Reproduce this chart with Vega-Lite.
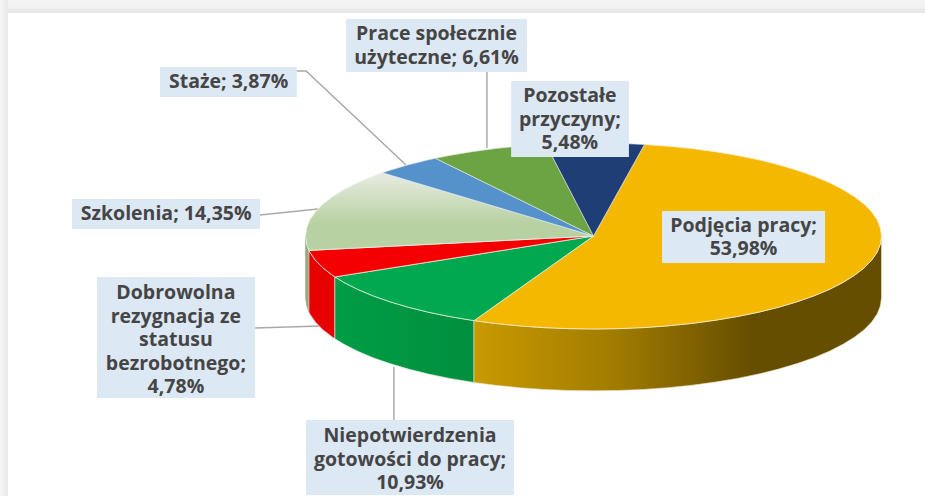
{"$schema":"https://vega.github.io/schema/vega-lite/v6.json","width":925,"height":496,"padding":0,"autosize":"none","background":"#ffffff","view":{"stroke":null},
"datasets":{
"top":[
{"s":"Podjecia","i":0,"x":0,"y":0},{"s":"Podjecia","i":1,"x":0.177,"y":0.984},{"s":"Podjecia","i":2,"x":0.259,"y":0.966},{"s":"Podjecia","i":3,"x":0.342,"y":0.94},{"s":"Podjecia","i":4,"x":0.423,"y":0.906},{"s":"Podjecia","i":5,"x":0.5,"y":0.866},{"s":"Podjecia","i":6,"x":0.574,"y":0.819},{"s":"Podjecia","i":7,"x":0.643,"y":0.766},{"s":"Podjecia","i":8,"x":0.707,"y":0.707},{"s":"Podjecia","i":9,"x":0.766,"y":0.643},{"s":"Podjecia","i":10,"x":0.819,"y":0.574},{"s":"Podjecia","i":11,"x":0.866,"y":0.5},{"s":"Podjecia","i":12,"x":0.906,"y":0.423},{"s":"Podjecia","i":13,"x":0.94,"y":0.342},{"s":"Podjecia","i":14,"x":0.966,"y":0.259},{"s":"Podjecia","i":15,"x":0.985,"y":0.174},{"s":"Podjecia","i":16,"x":0.996,"y":0.087},{"s":"Podjecia","i":17,"x":1,"y":0},{"s":"Podjecia","i":18,"x":0.996,"y":-0.087},{"s":"Podjecia","i":19,"x":0.985,"y":-0.174},{"s":"Podjecia","i":20,"x":0.966,"y":-0.259},{"s":"Podjecia","i":21,"x":0.94,"y":-0.342},{"s":"Podjecia","i":22,"x":0.906,"y":-0.423},{"s":"Podjecia","i":23,"x":0.866,"y":-0.5},{"s":"Podjecia","i":24,"x":0.819,"y":-0.574},{"s":"Podjecia","i":25,"x":0.766,"y":-0.643},{"s":"Podjecia","i":26,"x":0.707,"y":-0.707},{"s":"Podjecia","i":27,"x":0.643,"y":-0.766},{"s":"Podjecia","i":28,"x":0.574,"y":-0.819},{"s":"Podjecia","i":29,"x":0.5,"y":-0.866},{"s":"Podjecia","i":30,"x":0.423,"y":-0.906},{"s":"Podjecia","i":31,"x":0.342,"y":-0.94},{"s":"Podjecia","i":32,"x":0.259,"y":-0.966},{"s":"Podjecia","i":33,"x":0.174,"y":-0.985},{"s":"Podjecia","i":34,"x":0.087,"y":-0.996},{"s":"Podjecia","i":35,"x":0,"y":-1},{"s":"Podjecia","i":36,"x":-0.087,"y":-0.996},{"s":"Podjecia","i":37,"x":-0.174,"y":-0.985},{"s":"Podjecia","i":38,"x":-0.259,"y":-0.966},{"s":"Podjecia","i":39,"x":-0.342,"y":-0.94},{"s":"Podjecia","i":40,"x":-0.415,"y":-0.91},{"s":"Podjecia","i":41,"x":0,"y":0},
{"s":"Niepotw","i":0,"x":0,"y":0},{"s":"Niepotw","i":1,"x":-0.415,"y":-0.91},{"s":"Niepotw","i":2,"x":-0.5,"y":-0.866},{"s":"Niepotw","i":3,"x":-0.574,"y":-0.819},{"s":"Niepotw","i":4,"x":-0.643,"y":-0.766},{"s":"Niepotw","i":5,"x":-0.707,"y":-0.707},{"s":"Niepotw","i":6,"x":-0.766,"y":-0.643},{"s":"Niepotw","i":7,"x":-0.819,"y":-0.574},{"s":"Niepotw","i":8,"x":-0.866,"y":-0.5},{"s":"Niepotw","i":9,"x":-0.898,"y":-0.44},{"s":"Niepotw","i":10,"x":0,"y":0},
{"s":"Dobrowolna","i":0,"x":0,"y":0},{"s":"Dobrowolna","i":1,"x":-0.898,"y":-0.44},{"s":"Dobrowolna","i":2,"x":-0.906,"y":-0.423},{"s":"Dobrowolna","i":3,"x":-0.94,"y":-0.342},{"s":"Dobrowolna","i":4,"x":-0.966,"y":-0.259},{"s":"Dobrowolna","i":5,"x":-0.985,"y":-0.174},{"s":"Dobrowolna","i":6,"x":-0.988,"y":-0.155},{"s":"Dobrowolna","i":7,"x":0,"y":0},
{"s":"Szkolenia","i":0,"x":0,"y":0},{"s":"Szkolenia","i":1,"x":-0.988,"y":-0.155},{"s":"Szkolenia","i":2,"x":-0.996,"y":-0.087},{"s":"Szkolenia","i":3,"x":-1,"y":0},{"s":"Szkolenia","i":4,"x":-0.996,"y":0.087},{"s":"Szkolenia","i":5,"x":-0.985,"y":0.174},{"s":"Szkolenia","i":6,"x":-0.966,"y":0.259},{"s":"Szkolenia","i":7,"x":-0.94,"y":0.342},{"s":"Szkolenia","i":8,"x":-0.906,"y":0.423},{"s":"Szkolenia","i":9,"x":-0.866,"y":0.5},{"s":"Szkolenia","i":10,"x":-0.819,"y":0.574},{"s":"Szkolenia","i":11,"x":-0.766,"y":0.643},{"s":"Szkolenia","i":12,"x":-0.733,"y":0.68},{"s":"Szkolenia","i":13,"x":0,"y":0},
{"s":"Staze","i":0,"x":0,"y":0},{"s":"Staze","i":1,"x":-0.733,"y":0.68},{"s":"Staze","i":2,"x":-0.707,"y":0.707},{"s":"Staze","i":3,"x":-0.643,"y":0.766},{"s":"Staze","i":4,"x":-0.574,"y":0.819},{"s":"Staze","i":5,"x":-0.549,"y":0.836},{"s":"Staze","i":6,"x":0,"y":0},
{"s":"Prace","i":0,"x":0,"y":0},{"s":"Prace","i":1,"x":-0.549,"y":0.836},{"s":"Prace","i":2,"x":-0.5,"y":0.866},{"s":"Prace","i":3,"x":-0.423,"y":0.906},{"s":"Prace","i":4,"x":-0.342,"y":0.94},{"s":"Prace","i":5,"x":-0.259,"y":0.966},{"s":"Prace","i":6,"x":-0.165,"y":0.986},{"s":"Prace","i":7,"x":0,"y":0},
{"s":"Pozostale","i":0,"x":0,"y":0},{"s":"Pozostale","i":1,"x":-0.165,"y":0.986},{"s":"Pozostale","i":2,"x":-0.087,"y":0.996},{"s":"Pozostale","i":3,"x":0,"y":1},{"s":"Pozostale","i":4,"x":0.087,"y":0.996},{"s":"Pozostale","i":5,"x":0.177,"y":0.984},{"s":"Pozostale","i":6,"x":0,"y":0}
],
"wall":[
{"s":"Podjecia","i":0,"x":1,"y":0},{"s":"Podjecia","i":1,"x":0.996,"y":-0.087},{"s":"Podjecia","i":2,"x":0.985,"y":-0.174},{"s":"Podjecia","i":3,"x":0.966,"y":-0.259},{"s":"Podjecia","i":4,"x":0.94,"y":-0.342},{"s":"Podjecia","i":5,"x":0.906,"y":-0.423},{"s":"Podjecia","i":6,"x":0.866,"y":-0.5},{"s":"Podjecia","i":7,"x":0.819,"y":-0.574},{"s":"Podjecia","i":8,"x":0.766,"y":-0.643},{"s":"Podjecia","i":9,"x":0.707,"y":-0.707},{"s":"Podjecia","i":10,"x":0.643,"y":-0.766},{"s":"Podjecia","i":11,"x":0.574,"y":-0.819},{"s":"Podjecia","i":12,"x":0.5,"y":-0.866},{"s":"Podjecia","i":13,"x":0.423,"y":-0.906},{"s":"Podjecia","i":14,"x":0.342,"y":-0.94},{"s":"Podjecia","i":15,"x":0.259,"y":-0.966},{"s":"Podjecia","i":16,"x":0.174,"y":-0.985},{"s":"Podjecia","i":17,"x":0.087,"y":-0.996},{"s":"Podjecia","i":18,"x":0,"y":-1},{"s":"Podjecia","i":19,"x":-0.087,"y":-0.996},{"s":"Podjecia","i":20,"x":-0.174,"y":-0.985},{"s":"Podjecia","i":21,"x":-0.259,"y":-0.966},{"s":"Podjecia","i":22,"x":-0.342,"y":-0.94},{"s":"Podjecia","i":23,"x":-0.415,"y":-0.91},
{"s":"Podjecia","i":24,"x":-0.415,"y":-1.575},{"s":"Podjecia","i":25,"x":-0.342,"y":-1.605},{"s":"Podjecia","i":26,"x":-0.259,"y":-1.631},{"s":"Podjecia","i":27,"x":-0.174,"y":-1.65},{"s":"Podjecia","i":28,"x":-0.087,"y":-1.661},{"s":"Podjecia","i":29,"x":0,"y":-1.665},{"s":"Podjecia","i":30,"x":0.087,"y":-1.661},{"s":"Podjecia","i":31,"x":0.174,"y":-1.65},{"s":"Podjecia","i":32,"x":0.259,"y":-1.631},{"s":"Podjecia","i":33,"x":0.342,"y":-1.605},{"s":"Podjecia","i":34,"x":0.423,"y":-1.571},{"s":"Podjecia","i":35,"x":0.5,"y":-1.531},{"s":"Podjecia","i":36,"x":0.574,"y":-1.484},{"s":"Podjecia","i":37,"x":0.643,"y":-1.431},{"s":"Podjecia","i":38,"x":0.707,"y":-1.372},{"s":"Podjecia","i":39,"x":0.766,"y":-1.308},{"s":"Podjecia","i":40,"x":0.819,"y":-1.239},{"s":"Podjecia","i":41,"x":0.866,"y":-1.165},{"s":"Podjecia","i":42,"x":0.906,"y":-1.088},{"s":"Podjecia","i":43,"x":0.94,"y":-1.007},{"s":"Podjecia","i":44,"x":0.966,"y":-0.924},{"s":"Podjecia","i":45,"x":0.985,"y":-0.839},{"s":"Podjecia","i":46,"x":0.996,"y":-0.752},{"s":"Podjecia","i":47,"x":1,"y":-0.665},{"s":"Podjecia","i":48,"x":1,"y":0},
{"s":"Niepotw","i":0,"x":-0.415,"y":-0.91},{"s":"Niepotw","i":1,"x":-0.5,"y":-0.866},{"s":"Niepotw","i":2,"x":-0.574,"y":-0.819},{"s":"Niepotw","i":3,"x":-0.643,"y":-0.766},{"s":"Niepotw","i":4,"x":-0.707,"y":-0.707},{"s":"Niepotw","i":5,"x":-0.766,"y":-0.643},{"s":"Niepotw","i":6,"x":-0.819,"y":-0.574},{"s":"Niepotw","i":7,"x":-0.866,"y":-0.5},{"s":"Niepotw","i":8,"x":-0.898,"y":-0.44},{"s":"Niepotw","i":9,"x":-0.898,"y":-1.105},{"s":"Niepotw","i":10,"x":-0.866,"y":-1.165},{"s":"Niepotw","i":11,"x":-0.819,"y":-1.239},{"s":"Niepotw","i":12,"x":-0.766,"y":-1.308},{"s":"Niepotw","i":13,"x":-0.707,"y":-1.372},{"s":"Niepotw","i":14,"x":-0.643,"y":-1.431},{"s":"Niepotw","i":15,"x":-0.574,"y":-1.484},{"s":"Niepotw","i":16,"x":-0.5,"y":-1.531},{"s":"Niepotw","i":17,"x":-0.415,"y":-1.575},{"s":"Niepotw","i":18,"x":-0.415,"y":-0.91},
{"s":"Dobrowolna","i":0,"x":-0.898,"y":-0.44},{"s":"Dobrowolna","i":1,"x":-0.906,"y":-0.423},{"s":"Dobrowolna","i":2,"x":-0.94,"y":-0.342},{"s":"Dobrowolna","i":3,"x":-0.966,"y":-0.259},{"s":"Dobrowolna","i":4,"x":-0.985,"y":-0.174},{"s":"Dobrowolna","i":5,"x":-0.988,"y":-0.155},{"s":"Dobrowolna","i":6,"x":-0.988,"y":-0.82},{"s":"Dobrowolna","i":7,"x":-0.985,"y":-0.839},{"s":"Dobrowolna","i":8,"x":-0.966,"y":-0.924},{"s":"Dobrowolna","i":9,"x":-0.94,"y":-1.007},{"s":"Dobrowolna","i":10,"x":-0.906,"y":-1.088},{"s":"Dobrowolna","i":11,"x":-0.898,"y":-1.105},{"s":"Dobrowolna","i":12,"x":-0.898,"y":-0.44},
{"s":"Szkolenia","i":0,"x":-0.988,"y":-0.155},{"s":"Szkolenia","i":1,"x":-0.996,"y":-0.087},{"s":"Szkolenia","i":2,"x":-1,"y":0},{"s":"Szkolenia","i":3,"x":-1,"y":-0.665},{"s":"Szkolenia","i":4,"x":-0.996,"y":-0.752},{"s":"Szkolenia","i":5,"x":-0.988,"y":-0.82},{"s":"Szkolenia","i":6,"x":-0.988,"y":-0.155}
],
"leaders":[
{"s":"Staze","i":0,"x":-1.03,"y":1.774},{"s":"Staze","i":1,"x":-0.998,"y":1.774},{"s":"Staze","i":2,"x":-0.651,"y":0.763},
{"s":"Szkolenia","i":0,"x":-1.158,"y":0.226},{"s":"Szkolenia","i":1,"x":-0.957,"y":0.29},
{"s":"Prace","i":0,"x":-0.37,"y":1.763},{"s":"Prace","i":1,"x":-0.37,"y":0.946},
{"s":"Dobrowolna","i":0,"x":-1.175,"y":-0.989},{"s":"Dobrowolna","i":1,"x":-0.95,"y":-0.968},
{"s":"Niepotw","i":0,"x":-0.693,"y":-1.409},{"s":"Niepotw","i":1,"x":-0.693,"y":-1.978}
],
"labels":[
{"label":"Podjęcia pracy;\n53,98%","value":53.98,"x":0.521,"y":0.108,"x0":0.238,"x1":0.804,"y0":0.269,"y1":-0.29},
{"label":"Niepotwierdzenia\ngotowości do pracy;\n10,93%","value":10.93,"x":-0.637,"y":-2.151,"x0":-0.998,"x1":-0.276,"y0":-1.978,"y1":-2.785},
{"label":"Dobrowolna\nrezygnacja ze\nstatusu\nbezrobotnego;\n4,78%","value":4.78,"x":-1.45,"y":-0.613,"x0":-1.724,"x1":-1.175,"y0":-0.441,"y1":-1.742},
{"label":"Szkolenia; 14,35%","value":14.35,"x":-1.484,"y":0.237,"x0":-1.811,"x1":-1.158,"y0":0.398,"y1":0.075},
{"label":"Staże; 3,87%","value":3.87,"x":-1.267,"y":1.656,"x0":-1.505,"x1":-1.03,"y0":1.817,"y1":1.495},
{"label":"Prace społecznie\nużyteczne; 6,61%","value":6.61,"x":-0.545,"y":2.172,"x0":-0.859,"x1":-0.231,"y0":2.333,"y1":1.763},
{"label":"Pozostałe\nprzyczyny;\n5,48%","value":5.48,"x":-0.082,"y":1.505,"x0":-0.286,"x1":0.123,"y0":1.667,"y1":0.849}
]
},
"encoding":{
"x":{"field":"x","type":"quantitative","axis":null,"scale":{"domain":[-2.06076,1.15104],"nice":false,"zero":false}},
"y":{"field":"y","type":"quantitative","axis":null,"scale":{"domain":[-2.7957,2.53763],"nice":false,"zero":false}}
},
"layer":[
{"data":{"values":[{"x":-2.06076,"x1":1.15104,"y":2.53763,"y1":2.398}]},"mark":{"type":"rect","fill":{"gradient":"linear","x1":0,"y1":0,"x2":0,"y2":1,"stops":[{"offset":0,"color":"#f4f4f4"},{"offset":0.6,"color":"#f2f2f2"},{"offset":0.75,"color":"#e8e8e8"},{"offset":1,"color":"#e6e6e6"}]}},"encoding":{"x2":{"field":"x1"},"y2":{"field":"y1"}}},
{"data":{"values":[{"x":-2.06076,"x1":-2.033,"y":2.53763,"y1":-2.7957}]},"mark":{"type":"rect","fill":{"gradient":"linear","x1":0,"y1":0,"x2":1,"y2":0,"stops":[{"offset":0,"color":"#f6f6f6"},{"offset":1,"color":"#e8e8e8"}]}},"encoding":{"x2":{"field":"x1"},"y2":{"field":"y1"}}},
{"data":{"name":"leaders"},"mark":{"type":"line","stroke":"#a9a9a9","strokeWidth":1.5},"encoding":{"detail":{"field":"s"},"order":{"field":"i","type":"quantitative"}}},
{"data":{"name":"wall"},"transform":[{"filter":"datum.s==='Szkolenia'"}],"mark":{"type":"line","fill":"#97a983","stroke":"#97a983","strokeWidth":0.5},"encoding":{"order":{"field":"i","type":"quantitative"}}},
{"data":{"name":"wall"},"transform":[{"filter":"datum.s==='Dobrowolna'"}],"mark":{"type":"line","fill":"#e60000","stroke":"#f4e0d8","strokeWidth":0.6},"encoding":{"order":{"field":"i","type":"quantitative"}}},
{"data":{"name":"wall"},"transform":[{"filter":"datum.s==='Niepotw'"}],"mark":{"type":"line","fill":{"gradient":"linear","x1":0,"y1":0,"x2":1,"y2":0,"stops":[{"offset":0,"color":"#009c46"},{"offset":1,"color":"#008f3e"}]},"stroke":"#e8f0e0","strokeWidth":0.6},"encoding":{"order":{"field":"i","type":"quantitative"}}},
{"data":{"name":"wall"},"transform":[{"filter":"datum.s==='Podjecia'"}],"mark":{"type":"line","fill":{"gradient":"linear","x1":0,"y1":0,"x2":1,"y2":0,"stops":[{"offset":0,"color":"#c89a00"},{"offset":0.35,"color":"#a07b00"},{"offset":0.68,"color":"#664e00"},{"offset":1,"color":"#664e00"}]},"stroke":"#f0e8d0","strokeWidth":0.6},"encoding":{"order":{"field":"i","type":"quantitative"}}},
{"data":{"name":"top"},"transform":[{"filter":"datum.s==='Podjecia'"}],"mark":{"type":"line","fill":"#f4b800","stroke":"#f6eecf","strokeWidth":0.8},"encoding":{"order":{"field":"i","type":"quantitative"}}},
{"data":{"name":"top"},"transform":[{"filter":"datum.s==='Niepotw'"}],"mark":{"type":"line","fill":"#00a84f","stroke":"#dff0e0","strokeWidth":0.8},"encoding":{"order":{"field":"i","type":"quantitative"}}},
{"data":{"name":"top"},"transform":[{"filter":"datum.s==='Dobrowolna'"}],"mark":{"type":"line","fill":"#f50000","stroke":"#f6e6e0","strokeWidth":0.8},"encoding":{"order":{"field":"i","type":"quantitative"}}},
{"data":{"name":"top"},"transform":[{"filter":"datum.s==='Szkolenia'"}],"mark":{"type":"line","fill":{"gradient":"linear","x1":0,"y1":0,"x2":0,"y2":1,"stops":[{"offset":0,"color":"#e8ece2"},{"offset":0.65,"color":"#b8d1a3"},{"offset":1,"color":"#b8d1a3"}]},"stroke":"#eef2ea","strokeWidth":0.8},"encoding":{"order":{"field":"i","type":"quantitative"}}},
{"data":{"name":"top"},"transform":[{"filter":"datum.s==='Staze'"}],"mark":{"type":"line","fill":"#5592cc","stroke":"#e8eff6","strokeWidth":0.6},"encoding":{"order":{"field":"i","type":"quantitative"}}},
{"data":{"name":"top"},"transform":[{"filter":"datum.s==='Prace'"}],"mark":{"type":"line","fill":"#6ca443","stroke":"#e8efe0","strokeWidth":0.6},"encoding":{"order":{"field":"i","type":"quantitative"}}},
{"data":{"name":"top"},"transform":[{"filter":"datum.s==='Pozostale'"}],"mark":{"type":"line","fill":"#1f3e75","stroke":"#e0e4ec","strokeWidth":0.6},"encoding":{"order":{"field":"i","type":"quantitative"}}},
{"data":{"name":"labels"},"mark":{"type":"rect","fill":"#dde8f5"},"encoding":{"x":{"field":"x0","type":"quantitative"},"x2":{"field":"x1"},"y":{"field":"y0","type":"quantitative"},"y2":{"field":"y1"}}},
{"data":{"name":"labels"},"mark":{"type":"text","font":"Open Sans","fontWeight":"bold","fontSize":19.5,"color":"#454545","align":"center","baseline":"middle","lineBreak":"\n","lineHeight":23.5},"encoding":{"text":{"field":"label"}}}
]}
